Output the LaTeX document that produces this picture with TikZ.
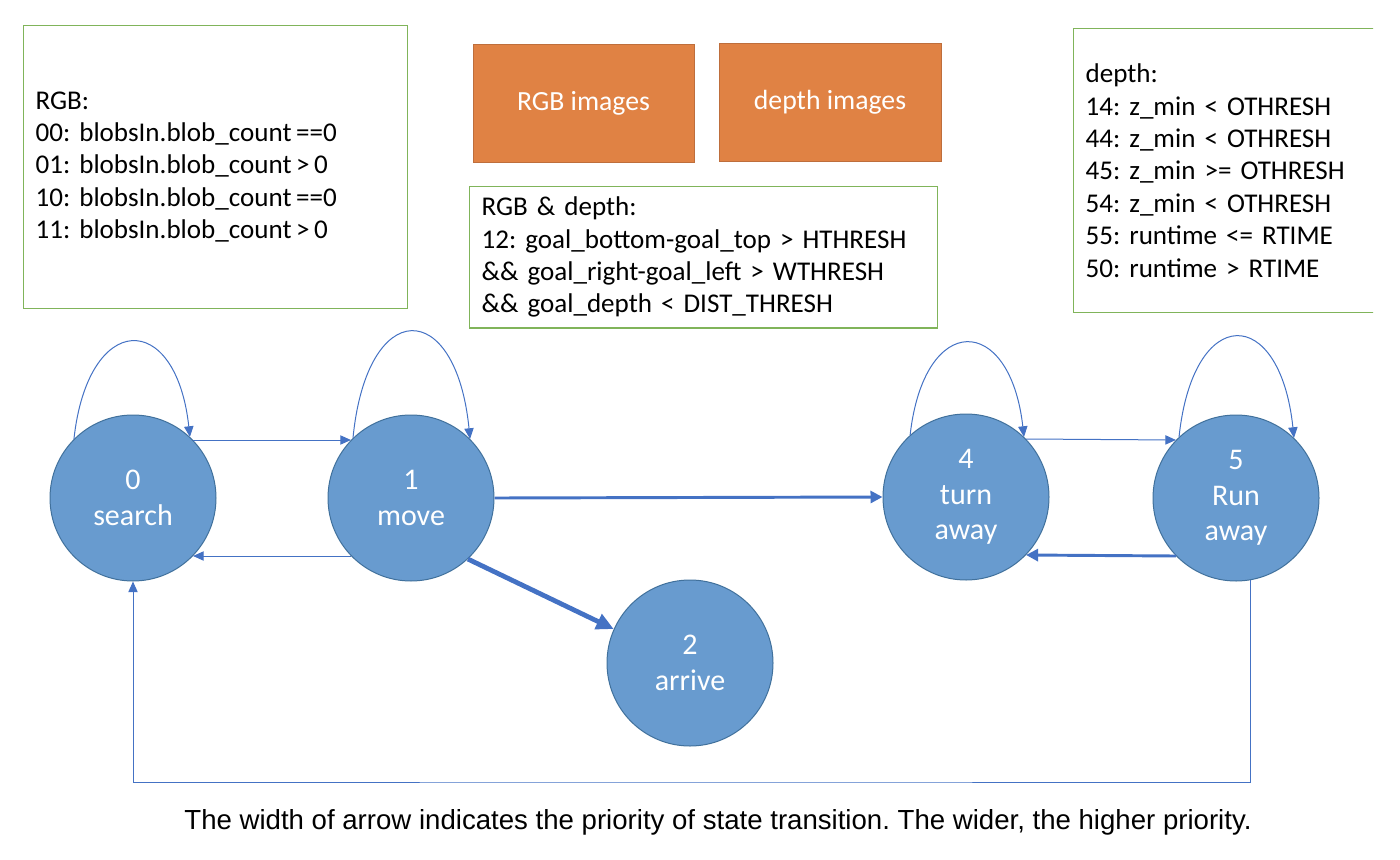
\documentclass[tikz,border=0pt]{standalone}
\usepackage{fontspec}
\setmainfont{Carlito}
\newfontfamily\notefont{Liberation Sans}
\usetikzlibrary{arrows.meta}
\frenchspacing

\definecolor{statefill}{RGB}{104,155,207}
\definecolor{stateline}{RGB}{65,113,156}
\definecolor{arrowblue}{RGB}{68,114,196}
\definecolor{imgfill}{RGB}{224,130,68}
\definecolor{imgline}{RGB}{190,110,60}
\definecolor{notegreen}{RGB}{128,180,90}

\begin{document}
\begin{tikzpicture}[x=0.75pt,y=-0.75pt,
    state/.style={circle,draw=stateline,fill=statefill,line width=0.75pt,
        minimum size=124.5pt,inner sep=0pt,text=white,align=center,
        font=\fontsize{22.5}{26.5}\selectfont},
    imgbox/.style={rectangle,draw=imgline,fill=imgfill,line width=0.75pt,
        text=white,font=\fontsize{20.8}{24}\selectfont},
    notebox/.style={rectangle,draw=notegreen,line width=0.9pt,align=left,
        inner xsep=9pt,anchor=north west,font=\fontsize{20.3}{24.3}\selectfont},
    thin/.style={draw=arrowblue,line width=0.75pt,-{Triangle[length=8pt,width=7pt]}},
    mid/.style={draw=arrowblue,line width=2.2pt,-{Triangle[length=9pt,width=9pt]}},
    wide/.style={draw=arrowblue,line width=3.6pt,-{Triangle[length=13pt,width=12pt]}}]

    % Fix the page to the size of the reference
    \useasboundingbox (0,0) rectangle (1400,860);

    % Condition boxes along the top
    \node[notebox,text width=270pt,minimum height=212pt] (rgbnote) at (23,25)
        {RGB:\\
         00: blobsIn.blob\_count\,==0\\
         01: blobsIn.blob\_count\,>\,0\\
         10: blobsIn.blob\_count\,==0\\
         11: blobsIn.blob\_count\,>\,0};

    \node[imgbox,minimum width=165.75pt,minimum height=88.5pt] (rgbimg) at (583.5,103) {RGB images};
    \node[imgbox,minimum width=166.5pt,minimum height=88.5pt] (depthimg) at (830,102) {depth images};

    \node[notebox,text width=333pt,minimum height=106pt] (bothnote) at (469,186)
        {RGB \& depth:\\
         12: goal\_bottom-goal\_top > HTHRESH\\
         \&\& goal\_right-goal\_left > WTHRESH\\
         \&\& goal\_depth < DIST\_THRESH};

    % The depth box runs past the right edge of the page
    \begin{scope}
        \clip (0,0) rectangle (1373,860);
        \node[notebox,text width=237pt,minimum height=213pt] (depthnote) at (1073,28)
            {depth:\\
             14: z\_min < OTHRESH\\
             44: z\_min < OTHRESH\\
             45: z\_min >= OTHRESH\\
             54: z\_min < OTHRESH\\
             55: runtime <= RTIME\\
             50: runtime > RTIME};
    \end{scope}

    % States
    \node[state] (s0) at (133,498) {0\\search};
    \node[state] (s1) at (411,498) {1\\move};
    \node[state] (s2) at (690,663) {2\\arrive};
    \node[state] (s4) at (966,497) {4\\turn\\away};
    \node[state] (s5) at (1236,498) {5\\Run\\away};

    % Self loops
    \draw[thin] (s0.135) .. controls +(14,-128) and +(-14,-128) .. (s0.47);
    \draw[thin] (s1.134) .. controls +(14,-142) and +(-14,-142) .. (s1.45);
    \draw[thin] (s4.132) .. controls +(14,-124) and +(-14,-124) .. (s4.46);
    \draw[thin] (s5.133) .. controls +(14,-134) and +(-14,-134) .. (s5.46);

    % Transitions between states
    \draw[thin] (s0.44) -- (s1.136);
    \draw[thin] (s1.-136) -- (s0.-44);
    \draw[mid] (s1.east) -- (s4.west);
    \draw[wide] (s1.-47) -- (s2.156);
    \draw[thin] (s4.44) -- (s5.136);
    \draw[mid] (s5.-136) -- (s4.-44);

    % Way back from 5 to 0 along the bottom
    \coordinate (back) at (700,782);
    \draw[thin] (s5.-80) |- (back) -| (s0.south);

    % Caption
    \node[font=\notefont\fontsize{20.7}{24}\selectfont] (caption) at (718,822)
        {The width of arrow indicates the priority of state transition. The wider, the higher priority.};

\end{tikzpicture}
\end{document}
